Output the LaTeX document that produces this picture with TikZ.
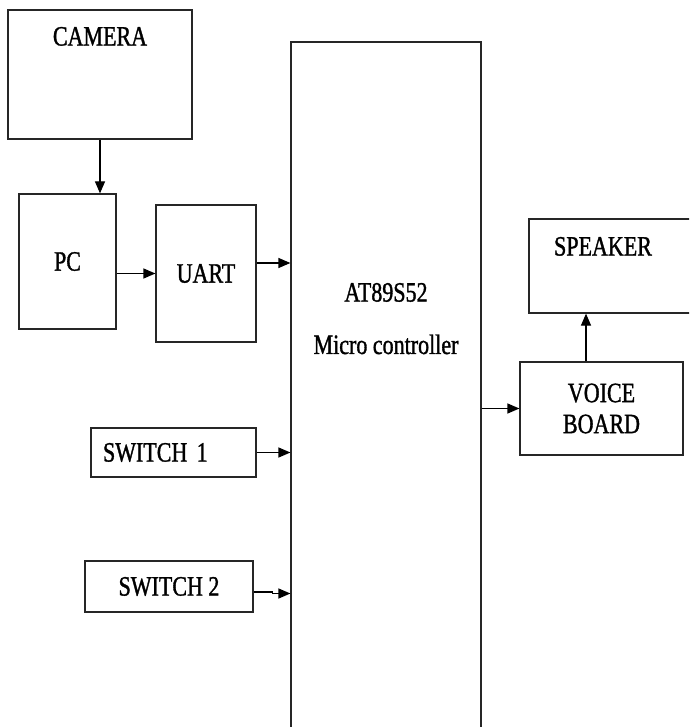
\documentclass[tikz,border=0pt]{standalone}
\usepackage{fontspec}
\setmainfont[FakeStretch=0.786,FakeBold=1.2]{Liberation Serif}
\usepackage{tikz}
\usetikzlibrary{arrows.meta,positioning}

\begin{document}
\begin{tikzpicture}[
  x=1pt,y=-1pt,
  box/.style={draw=black!85,line width=1.2pt,inner sep=0pt,align=center,
    font=\fontsize{28}{31}\selectfont},
  arrow/.style={-{Triangle[length=12pt,width=10pt]},line width=1.2pt},
  every label/.style={font=\fontsize{28}{31}\selectfont,inner sep=0pt}
]
\useasboundingbox (0,0) rectangle (689,727);
\clip (0,0) rectangle (689,727);
\node[box,minimum width=184pt,minimum height=129pt,
  label={[anchor=center,yshift=-27pt]north:CAMERA}] (camera) at (100,74.5) {};
\node[box,minimum width=97pt,minimum height=135pt] (pc) at (67.5,261.5) {PC};
\node[box,minimum width=100pt,minimum height=137pt] (uart) at (206,273.5) {UART};
\node[box,minimum width=190pt,minimum height=718pt,
  label={[anchor=center,yshift=-251pt]north:AT89S52},
  label={[anchor=center,yshift=-303pt]north:Micro controller}] (mc) at (386,401) {};
\node[box,minimum width=191pt,minimum height=94pt,
  label={[anchor=center,xshift=-21.5pt,yshift=-28pt]north:SPEAKER}] (speaker) at (624.5,266) {};
\node[box,minimum width=163pt,minimum height=93pt] (voice) at (601.5,408.5) {VOICE\\BOARD};
\node[box,text width=141pt,inner xsep=12pt,align=left,minimum height=49pt] (sw1) at (173.5,452.5) {SWITCH 1};
\node[box,minimum width=168pt,minimum height=51pt] (sw2) at (169,586.5) {SWITCH 2};
% connections
\path ([yshift=10.5pt]uart.east) coordinate (uartout);
\path ([xshift=-15.5pt]voice.north) coordinate (voiceout);
\path ([yshift=-5.5pt]sw2.east) coordinate (swout);
\draw[arrow] (camera.south) -- (camera.south |- pc.north);
\draw[arrow] (pc.east |- uart) -- (uart.west);
\draw[arrow] (uartout) -- (uartout -| mc.west);
\draw[arrow] (mc.east |- voice) -- (voice.west);
\draw[arrow] (voiceout) -- (voiceout |- speaker.south);
\draw[arrow] (sw1.east) -- (sw1.east -| mc.west);
\draw[arrow] (swout) -- ++(19,0) |- ([yshift=-7pt]sw2.east -| mc.west);
\end{tikzpicture}
\end{document}
